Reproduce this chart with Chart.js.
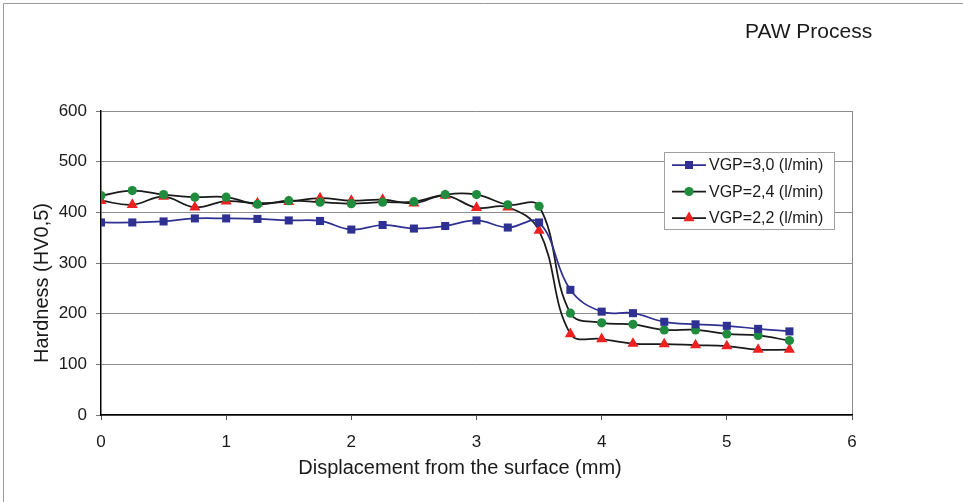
<!DOCTYPE html>
<html>
<head>
<meta charset="utf-8">
<script src="https://cdn.jsdelivr.net/npm/chart.js"></script>
<style>
html,body{margin:0;padding:0;background:#fff}
#wrap{width:963px;height:502px}
</style>
</head>
<body>
<div id="wrap"><canvas id="hv" width="963" height="502"></canvas></div>
<script>
// depth positions (mm)
const depth=[0,0.25,0.5,0.75,1,1.25,1.5,1.75,2,2.25,2.5,2.75,3,3.25,3.5,3.75,4,4.25,4.5,4.75,5,5.25,5.5];
// hardness HV0,5 for each plasma gas flow
const vgp30=[380,380,382,388,388,387,384,383,366,375,368,373,384,370,380,247,204,201,184,179,176,170,165];
const vgp24=[433,443,435,430,430,416,423,420,417,420,421,435,435,415,412,201,182,179,168,168,160,157,147];
const vgp22=[423,415,431,410,422,418,421,428,423,425,418,433,409,410,364,160,150,141,140,138,136,129,129];
const seriesNames=['VGP=3,0 (l/min)','VGP=2,4 (l/min)','VGP=2,2 (l/min)'];
const yTicks=[0,100,200,300,400,500,600];
const xTicks=[0,1,2,3,4,5,6];
const chartTitle='PAW Process';
const xTitle='Displacement from the surface (mm)';
const yTitle='Hardness (HV0,5)';

const FONT='"Liberation Sans", Arial, sans-serif';
const pts=v=>depth.map((x,i)=>({x,y:v[i]}));

// page frame, headline, axis titles and the boxed legend
const decor={id:'decor',
  beforeDraw(c){const g=c.ctx;g.save();g.fillStyle='#fff';g.fillRect(0,0,c.width,c.height);
    g.strokeStyle='#9a9a9a';g.lineWidth=1;g.beginPath();g.moveTo(3.5,c.height);g.lineTo(3.5,3.5);g.lineTo(c.width,3.5);g.stroke();g.restore();},
  afterDraw(c){const g=c.ctx;g.save();g.fillStyle='#1a1a1a';g.textBaseline='middle';
    g.font='21px '+FONT;g.textAlign='left';g.fillText(chartTitle,745,32);
    g.font='20px '+FONT;g.textAlign='center';g.fillText(xTitle,460,468);
    g.translate(42,283);g.rotate(-Math.PI/2);g.fillText(yTitle,0,0);g.restore();
    // legend
    g.save();const L=664.5,T=152.5,W=170,H=77;
    g.fillStyle='#fff';g.fillRect(L,T,W,H);g.strokeStyle='#a0a0a0';g.lineWidth=1;g.strokeRect(L,T,W,H);
    g.font='16px '+FONT;g.textBaseline='middle';g.textAlign='left';
    c.data.datasets.forEach((d,i)=>{const y=165+i*26.5;
      g.strokeStyle=d.borderColor;g.lineWidth=1.75;g.beginPath();g.moveTo(672,y);g.lineTo(706,y);g.stroke();
      g.fillStyle=d.pointBackgroundColor;
      Chart.helpers.drawPoint(g,{pointStyle:d.pointStyle,radius:d.pointRadius,borderWidth:0},689,y);
      g.fillStyle='#1a1a1a';g.fillText(d.label,709,y+1);});
    g.restore();}};

const ds=(label,data,line,fill,style,r)=>({label,data:pts(data),borderColor:line,borderWidth:1.75,tension:0.4,
  pointStyle:style,pointRadius:r,pointHoverRadius:r,pointBackgroundColor:fill,pointBorderColor:fill,pointBorderWidth:0});

new Chart(document.getElementById('hv'),{type:'line',
  data:{datasets:[
    ds(seriesNames[0],vgp30,'#2e3192','#2e3192','rect',5.7),
    ds(seriesNames[1],vgp24,'#1a1a1a','#1f8c3e','circle',4.6),
    ds(seriesNames[2],vgp22,'#1a1a1a','#ee2020','triangle',6.4)]},
  options:{responsive:false,animation:false,events:[],
    layout:{padding:{left:0,top:111,right:111,bottom:0}},
    plugins:{legend:{display:false},tooltip:{enabled:false}},
    scales:{
      x:{type:'linear',min:0,max:6,afterFit:s=>{s.height=87;},
        afterBuildTicks:s=>{s.ticks=xTicks.map(v=>({value:v}));},
        ticks:{font:{family:FONT,size:17},color:'#1a1a1a',padding:12},
        grid:{drawOnChartArea:true,color:t=>t.tick&&t.tick.value===6?'#8c8c8c':'rgba(0,0,0,0)',tickColor:'#555',tickLength:5,lineWidth:1},
        border:{color:'#000',width:1.5}},
      y:{min:0,max:600,afterFit:s=>{s.width=101;},
        afterBuildTicks:s=>{s.ticks=yTicks.map(v=>({value:v}));},
        ticks:{font:{family:FONT,size:17},color:'#1a1a1a',padding:9},
        grid:{color:'#8c8c8c',tickColor:'#777',tickLength:5,lineWidth:1},
        border:{color:'#000',width:1.5}}}},
  plugins:[decor]});
</script>
</body>
</html>
